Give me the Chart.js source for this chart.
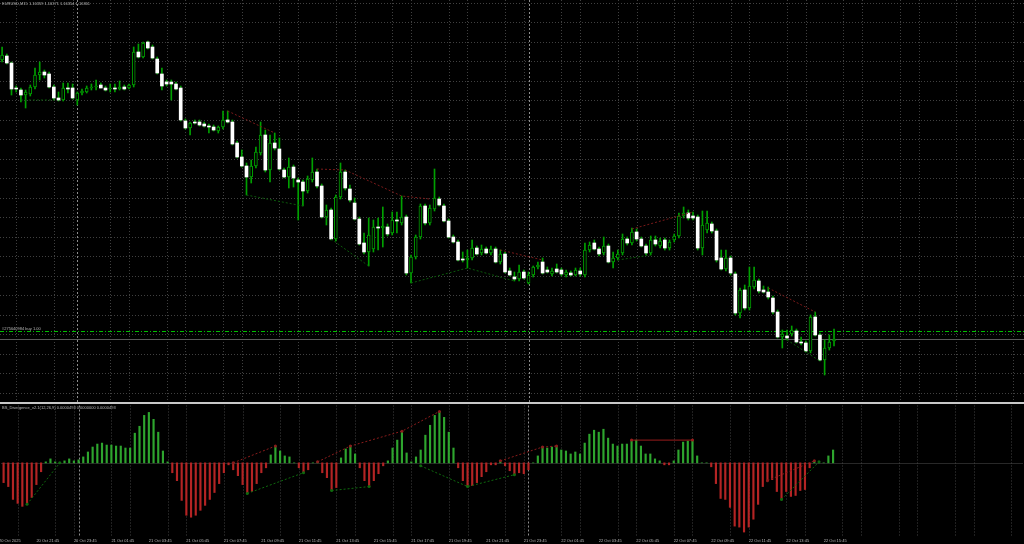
<!DOCTYPE html>
<html><head><meta charset="utf-8">
<script src="https://cdn.jsdelivr.net/npm/chart.js@4.4.1/dist/chart.umd.min.js"></script>
<style>
html,body{margin:0;padding:0;background:#000;}
body{width:1024px;height:544px;position:relative;overflow:hidden;}
canvas{position:absolute;left:0;display:block}
#cTop{top:0}
#cBot{top:404px}
#sep{position:absolute;left:0;top:402px;width:1024px;height:2px;background:#c8c8c8}
.lbl{position:absolute;left:2px;font-family:"Liberation Sans",Arial,sans-serif;font-size:8px;line-height:9px;color:#b8b8b8;white-space:nowrap;transform:scale(0.5);transform-origin:0 0}
</style></head><body>
<canvas id="cTop" width="1024" height="402"></canvas>
<div id="sep"></div>
<canvas id="cBot" width="1024" height="140"></canvas>
<div class="lbl" id="hdr" style="top:1px"></div>
<div class="lbl" id="ord" style="top:326px"></div>
<div class="lbl" id="ind" style="top:405px"></div>
<script>
// ---------- data (EURUSD M15, bars from 20 Oct 20:00) ----------
const open = [
1.16640,1.16644,1.16637,1.16612,1.16610,1.16605,1.16606,1.16613,1.16625,1.16628,
1.16626,1.16613,1.16602,1.16600,1.16612,1.16612,1.16600,1.16607,1.16608,1.16612,
1.16613,1.16615,1.16612,1.16611,1.16612,1.16611,1.16613,1.16612,1.16615,1.16648,
1.16643,1.16658,1.16653,1.16641,1.16626,1.16618,1.16618,1.16616,1.16612,1.16579,
1.16572,1.16578,1.16578,1.16576,1.16574,1.16573,1.16569,1.16573,1.16580,1.16578,
1.16557,1.16543,1.16534,1.16523,1.16534,1.16547,1.16565,1.16530,1.16557,1.16551,
1.16530,1.16523,1.16533,1.16520,1.16518,1.16509,1.16520,1.16528,1.16514,1.16483,
1.16490,1.16461,1.16503,1.16528,1.16511,1.16497,1.16481,1.16457,1.16448,1.16451,
1.16473,1.16472,1.16473,1.16467,1.16480,1.16477,1.16483,1.16427,1.16443,1.16463,
1.16494,1.16477,1.16491,1.16501,1.16494,1.16479,1.16463,1.16458,1.16441,1.16440,
1.16442,1.16452,1.16447,1.16451,1.16447,1.16451,1.16438,1.16446,1.16429,1.16423,
1.16421,1.16428,1.16417,1.16425,1.16433,1.16438,1.16430,1.16426,1.16431,1.16430,
1.16425,1.16427,1.16425,1.16429,1.16425,1.16450,1.16457,1.16451,1.16447,1.16454,
1.16438,1.16442,1.16447,1.16461,1.16457,1.16468,1.16461,1.16454,1.16447,1.16460,
1.16454,1.16460,1.16452,1.16460,1.16464,1.16484,1.16487,1.16484,1.16483,1.16452,
1.16470,1.16476,1.16469,1.16442,1.16431,1.16442,1.16426,1.16387,1.16410,1.16392,
1.16413,1.16419,1.16410,1.16408,1.16402,1.16388,1.16363,1.16364,1.16366,1.16369,
1.16358,1.16357,1.16349,1.16383,1.16365,1.16340,1.16352,1.16359];
const high = [
1.16653,1.16646,1.16638,1.16614,1.16612,1.16610,1.16615,1.16632,1.16638,1.16630,
1.16628,1.16615,1.16608,1.16617,1.16617,1.16616,1.16608,1.16611,1.16614,1.16616,
1.16620,1.16617,1.16614,1.16616,1.16616,1.16619,1.16615,1.16616,1.16653,1.16656,
1.16658,1.16659,1.16655,1.16643,1.16632,1.16620,1.16620,1.16618,1.16614,1.16581,
1.16578,1.16580,1.16580,1.16578,1.16576,1.16575,1.16574,1.16589,1.16589,1.16580,
1.16559,1.16550,1.16537,1.16540,1.16553,1.16578,1.16570,1.16565,1.16567,1.16562,
1.16532,1.16542,1.16535,1.16522,1.16520,1.16524,1.16542,1.16531,1.16516,1.16495,
1.16492,1.16505,1.16537,1.16530,1.16515,1.16502,1.16483,1.16467,1.16482,1.16480,
1.16482,1.16493,1.16476,1.16488,1.16488,1.16504,1.16485,1.16445,1.16465,1.16496,
1.16496,1.16495,1.16531,1.16503,1.16496,1.16481,1.16465,1.16460,1.16448,1.16450,
1.16460,1.16454,1.16455,1.16453,1.16454,1.16453,1.16450,1.16448,1.16432,1.16428,
1.16435,1.16430,1.16428,1.16434,1.16438,1.16442,1.16433,1.16432,1.16436,1.16432,
1.16430,1.16429,1.16432,1.16432,1.16457,1.16458,1.16460,1.16453,1.16463,1.16456,
1.16448,1.16450,1.16466,1.16463,1.16472,1.16471,1.16463,1.16456,1.16464,1.16464,
1.16462,1.16462,1.16460,1.16466,1.16487,1.16493,1.16490,1.16488,1.16485,1.16489,
1.16489,1.16478,1.16471,1.16450,1.16450,1.16444,1.16428,1.16412,1.16415,1.16433,
1.16433,1.16421,1.16414,1.16413,1.16404,1.16390,1.16370,1.16370,1.16374,1.16371,
1.16363,1.16359,1.16385,1.16388,1.16367,1.16360,1.16365,1.16371];
const low = [
1.16638,1.16636,1.16605,1.16608,1.16598,1.16592,1.16604,1.16611,1.16620,1.16622,
1.16612,1.16600,1.16599,1.16599,1.16607,1.16601,1.16595,1.16605,1.16607,1.16610,
1.16610,1.16612,1.16609,1.16608,1.16608,1.16610,1.16610,1.16611,1.16613,1.16642,
1.16642,1.16651,1.16641,1.16626,1.16610,1.16614,1.16600,1.16610,1.16579,1.16571,
1.16565,1.16576,1.16574,1.16573,1.16567,1.16569,1.16567,1.16571,1.16577,1.16555,
1.16542,1.16533,1.16505,1.16517,1.16532,1.16545,1.16528,1.16518,1.16550,1.16530,
1.16522,1.16512,1.16513,1.16480,1.16494,1.16507,1.16518,1.16512,1.16482,1.16475,
1.16460,1.16459,1.16501,1.16510,1.16498,1.16480,1.16455,1.16446,1.16434,1.16448,
1.16450,1.16453,1.16464,1.16465,1.16467,1.16475,1.16425,1.16417,1.16441,1.16461,
1.16475,1.16475,1.16489,1.16494,1.16478,1.16462,1.16457,1.16439,1.16438,1.16432,
1.16440,1.16445,1.16445,1.16446,1.16445,1.16437,1.16436,1.16427,1.16424,1.16419,
1.16419,1.16421,1.16416,1.16423,1.16431,1.16426,1.16427,1.16424,1.16427,1.16424,
1.16423,1.16424,1.16424,1.16424,1.16423,1.16448,1.16450,1.16444,1.16445,1.16437,
1.16432,1.16440,1.16445,1.16455,1.16455,1.16459,1.16453,1.16445,1.16445,1.16454,
1.16452,1.16450,1.16450,1.16458,1.16462,1.16482,1.16480,1.16480,1.16450,1.16445,
1.16467,1.16467,1.16438,1.16430,1.16429,1.16425,1.16385,1.16382,1.16390,1.16390,
1.16411,1.16407,1.16407,1.16401,1.16386,1.16362,1.16352,1.16360,1.16364,1.16357,
1.16355,1.16348,1.16347,1.16364,1.16339,1.16325,1.16350,1.16354];
const close = [
1.16645,1.16637,1.16611,1.16611,1.16605,1.16608,1.16613,1.16625,1.16628,1.16625,
1.16613,1.16602,1.16600,1.16612,1.16611,1.16602,1.16607,1.16609,1.16612,1.16613,
1.16614,1.16612,1.16610,1.16612,1.16611,1.16613,1.16611,1.16615,1.16648,1.16643,
1.16657,1.16652,1.16642,1.16627,1.16614,1.16616,1.16616,1.16611,1.16580,1.16572,
1.16577,1.16577,1.16575,1.16574,1.16573,1.16570,1.16573,1.16580,1.16578,1.16556,
1.16543,1.16534,1.16523,1.16534,1.16548,1.16565,1.16530,1.16557,1.16552,1.16531,
1.16523,1.16533,1.16522,1.16518,1.16509,1.16521,1.16528,1.16514,1.16483,1.16490,
1.16461,1.16503,1.16528,1.16512,1.16500,1.16481,1.16456,1.16448,1.16465,1.16473,
1.16472,1.16474,1.16466,1.16480,1.16479,1.16483,1.16427,1.16443,1.16463,1.16494,
1.16477,1.16492,1.16502,1.16495,1.16479,1.16463,1.16458,1.16440,1.16440,1.16442,
1.16452,1.16446,1.16451,1.16447,1.16451,1.16438,1.16446,1.16428,1.16425,1.16421,
1.16428,1.16422,1.16425,1.16433,1.16435,1.16427,1.16428,1.16429,1.16428,1.16426,
1.16428,1.16425,1.16430,1.16426,1.16450,1.16455,1.16451,1.16446,1.16454,1.16438,
1.16442,1.16446,1.16461,1.16457,1.16468,1.16461,1.16454,1.16447,1.16460,1.16456,
1.16459,1.16452,1.16458,1.16464,1.16484,1.16487,1.16482,1.16482,1.16452,1.16475,
1.16477,1.16469,1.16440,1.16431,1.16442,1.16427,1.16387,1.16410,1.16392,1.16414,
1.16420,1.16409,1.16408,1.16403,1.16388,1.16363,1.16366,1.16362,1.16370,1.16358,
1.16357,1.16349,1.16383,1.16365,1.16340,1.16352,1.16358,1.16361];
const histogram = [
-0.00020,-0.00024,-0.00037,-0.00041,-0.00044,-0.00042,-0.00035,-0.00022,-0.00009,0.00001,
0.00004,0.00001,0.000005,0.00002,0.00004,0.00002,0.00003,0.00006,0.00011,0.00016,
0.00019,0.00020,0.00018,0.00018,0.00017,0.00017,0.00015,0.00015,0.00030,0.00037,
0.00048,0.00051,0.00044,0.00031,0.00012,0.00001,-0.00010,-0.00018,-0.00038,-0.00053,
-0.00055,-0.00053,-0.00048,-0.00043,-0.00037,-0.00030,-0.00021,-0.00010,-0.00002,-0.00007,
-0.00013,-0.00022,-0.00031,-0.00029,-0.00021,-0.00010,-0.00005,0.00008,0.00017,0.00012,
0.00007,0.00006,0.00000,-0.00005,-0.00010,-0.00007,0.00000,0.00001,-0.00010,-0.00015,
-0.00028,-0.00025,0.00005,0.00014,0.00017,0.00009,-0.00005,-0.00018,-0.00024,-0.00018,
-0.00011,-0.00003,0.00002,0.00015,0.00023,0.00032,0.00010,0.00001,0.00006,0.00013,
0.00028,0.00038,0.00048,0.00052,0.00046,0.00031,0.00015,-0.00005,-0.00018,-0.00024,
-0.00023,-0.00020,-0.00014,-0.00009,-0.00002,-0.00002,0.00002,-0.00003,-0.00008,-0.00012,
-0.00010,-0.00011,-0.00007,0.00000,0.00007,0.00016,0.00015,0.00016,0.00017,0.00013,
0.00012,0.00009,0.00011,0.00009,0.00020,0.00029,0.00033,0.00031,0.00034,0.00025,
0.00019,0.00017,0.00019,0.00019,0.00023,0.00023,0.00017,0.00009,0.00009,0.00004,
0.00002,-0.00002,-0.00002,0.00002,0.00013,0.00021,0.00022,0.00023,0.00007,0.00000,
0.00000,-0.00004,-0.00021,-0.00036,-0.00037,-0.00045,-0.00064,-0.00065,-0.00070,-0.00065,
-0.00057,-0.00042,-0.00024,-0.00018,-0.00017,-0.00029,-0.00037,-0.00029,-0.00034,-0.00033,
-0.00028,-0.00027,-0.00005,0.00002,0.00001,0.00000,0.00007,0.00013];

const timeLabels = ["20 Oct 2025","20 Oct 21:45","20 Oct 23:45","21 Oct 01:45","21 Oct 03:45","21 Oct 05:45",
"21 Oct 07:45","21 Oct 09:45","21 Oct 11:45","21 Oct 13:45","21 Oct 15:45","21 Oct 17:45","21 Oct 19:45",
"21 Oct 21:45","21 Oct 23:45","22 Oct 01:45","22 Oct 03:45","22 Oct 05:45","22 Oct 07:45","22 Oct 09:45",
"22 Oct 11:45","22 Oct 13:45","22 Oct 15:45"];
const labelBars = [-1,7,15,23,31,39,47,55,63,71,79,87,95,103,111,119,127,135,143,151,159,167,175];
const gridBars = [3,11,15,23,27,35,39,47,51,59,63,71,75,83,87,95,99,107,111,119,123,131,135,143,147,155,159,167,171,179,183,191,195,203,207,215];
const daySeparatorBars = [16,112];

const symbolName = "EURUSD,M15";
const orderTicket = "#275640984", orderType = "buy", orderLots = "1.00", orderPrice = 1.16369;
const indicatorName = "BS_Divergence_v2.1(12,26,9)";
const indicatorValues = ["0.0000493","0.0000000","0.0000493"];

const priceBearLines = [
 [[48,1.16589],[58,1.16567]],
 [[67,1.16531],[73,1.16530],[85,1.16504],[91,1.16501]],
 [[106,1.16450],[115,1.16440]],
 [[134,1.16471],[147,1.16488]],
 [[163,1.16412],[173,1.16388]]];
const priceBullLines = [
 [[4,1.16600],[11,1.16600]],
 [[52,1.16505],[64,1.16494]],
 [[70,1.16461],[78,1.16434]],
 [[87,1.16417],[99,1.16432],[109,1.16419]],
 [[131,1.16440],[138,1.16445]],
 [[167,1.16360],[174,1.16339]]];
const indBearLines = [
 [[49,0],[58,0.00017]],
 [[67,0.00001],[74,0.00017],[85,0.00032],[93,0.00052]],
 [[106,0.00002],[115,0.00016],[118,0.00017]],
 [[163,-0.00018],[173,0.00002]]];
const indBearSolid = [[[134,0.00023],[147,0.00023]]];
const indBullLines = [
 [[5,-0.00042],[12,0]],
 [[52,-0.00031],[64,-0.00010]],
 [[70,-0.00028],[78,-0.00024]],
 [[89,-0.00003],[99,-0.00024],[109,-0.00012]],
 [[166,-0.00037],[174,0.00001]]];

// ---------- layout / style ----------
const X_MIN = -0.447, X_MAX = 217.42;
const P_MIN = 1.16298, P_MAX = 1.16700;
const H_GRID_TOP = 1.16697, H_GRID_STEP = 0.000195;
const I_MIN = -0.00075, I_MAX = 0.00058;
const GREEN = '#00a000', GRID = '#404040', SEPC = '#8c8c8c';

const N = close.length;
const idx = close.map((_, i) => i);
const bull = idx.map(i => close[i] >= open[i]);

document.getElementById('hdr').textContent = symbolName + '  ' + [open[N-1],high[N-1],low[N-1],close[N-1]].map(v=>v.toFixed(5)).join(' ');
document.getElementById('ord').textContent = orderTicket + ' ' + orderType + ' ' + orderLots;
document.getElementById('ind').textContent = indicatorName + ' ' + indicatorValues.join(' ');

function seg(ctx, x1, y1, x2, y2){ ctx.beginPath(); ctx.moveTo(x1,y1); ctx.lineTo(x2,y2); ctx.stroke(); }
function vgrid(chart){
  const {ctx, chartArea:a, scales:{x}} = chart;
  ctx.lineWidth = 1; ctx.strokeStyle = GRID; ctx.setLineDash([1,2]);
  for (const b of gridBars){ const px = Math.round(x.getPixelForValue(b)) + 0.5; seg(ctx, px, a.top, px, a.bottom); }
  ctx.strokeStyle = SEPC; ctx.setLineDash([2,2]);
  for (const b of daySeparatorBars){ const px = Math.round(x.getPixelForValue(b)) + 0.5; seg(ctx, px, a.top, px, a.bottom); }
}
const topDecor = { id:'topDecor', beforeDatasetsDraw(chart){
  const {ctx, chartArea:a, scales:{y}} = chart;
  ctx.save();
  ctx.lineWidth = 1; ctx.strokeStyle = GRID; ctx.setLineDash([1,2]);
  for (let p = H_GRID_TOP; p > P_MIN; p -= H_GRID_STEP){ const py = Math.round(y.getPixelForValue(p)) + 0.5; seg(ctx, a.left, py, a.right, py); }
  vgrid(chart);
  ctx.setLineDash([]); ctx.strokeStyle = '#5a5a5a';
  let py = Math.round(y.getPixelForValue(close[N-1])) + 0.5; seg(ctx, a.left, py, a.right, py);
  ctx.setLineDash([4,2,1,2]); ctx.strokeStyle = '#00c000';
  py = Math.round(y.getPixelForValue(orderPrice)) + 0.5; seg(ctx, a.left, py, a.right, py);
  ctx.restore();
}};
const botDecor = { id:'botDecor', beforeDatasetsDraw(chart){
  const {ctx, chartArea:a, scales:{y}} = chart;
  ctx.save();
  vgrid(chart);
  ctx.strokeStyle = '#505050'; ctx.setLineDash([1,1]);
  const py = Math.round(y.getPixelForValue(0)) + 0.5; seg(ctx, a.left, py, a.right, py);
  ctx.restore();
}};

function lineSets(list, color, dash, radius){
  return list.map(pts => ({type:'line', data: pts.map(p=>({x:p[0], y:p[1]})), borderColor:color, borderWidth:1,
    borderDash:dash, pointRadius:radius, pointBackgroundColor:color, pointBorderWidth:0, pointHoverRadius:0,
    fill:false, tension:0, order:-1, clip:false}));
}
const baseOpts = (yMin, yMax) => ({
  responsive:false, animation:false, devicePixelRatio:1, events:[],
  layout:{padding:0},
  plugins:{legend:{display:false}, tooltip:{enabled:false}},
  scales:{
    x:{type:'linear', min:X_MIN, max:X_MAX, offset:false, display:false},
    y:{type:'linear', min:yMin, max:yMax, display:false}
  }
});

new Chart(document.getElementById('cTop'), {
  type:'bar',
  data:{datasets:[
    {label:'body', data: idx.map(i=>({x:i, y:[open[i], close[i]]})),
     backgroundColor: idx.map(i=> bull[i] ? '#000000' : '#ffffff'),
     borderColor: GREEN, borderWidth: idx.map(i=> bull[i] ? 1 : 0), borderSkipped:false,
     barThickness:3, minBarLength:1, grouped:false, order:0},
    {label:'wick', data: idx.map(i=>({x:i, y:[low[i], high[i]]})),
     backgroundColor: GREEN, borderWidth:0, barThickness:1, grouped:false, order:5},
    ...lineSets(priceBearLines, '#7a1a1a', [2,2], 0),
    ...lineSets(priceBullLines, '#0b5a0b', [2,2], 0)
  ]},
  options: baseOpts(P_MIN, P_MAX),
  plugins:[topDecor]
});

const botOpts = baseOpts(I_MIN, I_MAX);
botOpts.scales.x = {type:'linear', min:X_MIN, max:X_MAX, offset:false, display:true, position:'bottom',
  grid:{display:false, drawTicks:false}, border:{display:false},
  afterBuildTicks: s => { s.ticks = labelBars.map(v=>({value:v})); },
  afterFit: s => { s.height = 7; s.paddingLeft = 0; s.paddingRight = 0; },
  ticks:{autoSkip:false, maxRotation:0, minRotation:0, align:'start', padding:1, color:'#b8b8b8',
    font:{size:4, family:'"Liberation Sans", Arial, sans-serif'}, callback:(v,i)=>timeLabels[i]}};

new Chart(document.getElementById('cBot'), {
  type:'bar',
  data:{datasets:[
    {label:'hist', data: idx.map(i=>({x:i, y:histogram[i]})),
     backgroundColor: histogram.map(v=> v >= 0 ? '#2ea52e' : '#b42424'),
     borderWidth:0, barThickness:1.5, grouped:false, order:2, clip:false},
    ...lineSets(indBearLines, '#8a1c1c', [2,2], 1.5),
    ...lineSets(indBearSolid, '#9a1c1c', [], 1.5),
    ...lineSets(indBullLines, '#0e6a0e', [2,2], 1.5)
  ]},
  options: botOpts,
  plugins:[botDecor]
});
</script>
</body></html>
